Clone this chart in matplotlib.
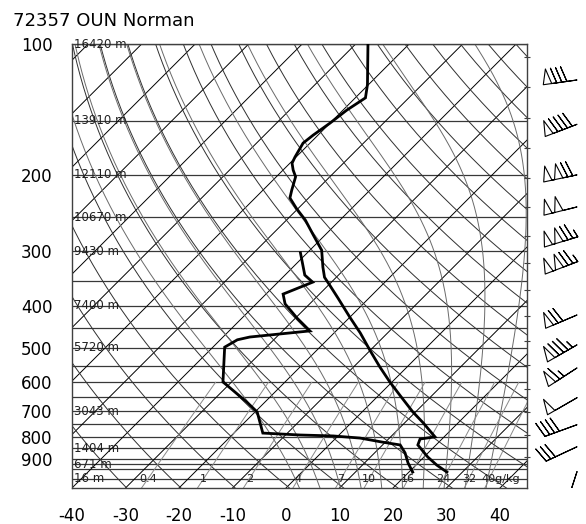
import numpy as np
import matplotlib.pyplot as plt

plt.rcParams['font.family'] = 'DejaVu Sans'
plt.rcParams['axes.unicode_minus'] = False

station = "72357 OUN Norman"

# sounding (hPa, degC)
temp_p = [100, 124, 133, 142, 152, 162, 169, 182, 188, 195, 202, 217, 226, 239,
          254, 275, 298, 326, 344, 359, 384, 425, 462, 506, 553, 599, 642, 702,
          744, 801, 810, 836, 891, 930, 965]
temp_c = [-67.7, -60.2, -58.1, -59.3, -60.0, -60.9, -61.3, -60.2, -59.6, -58.1,
          -56.4, -54.6, -53.5, -50.3, -46.5, -42.2, -37.8, -34.4, -32.2, -29.7,
          -25.8, -20.0, -15.1, -10.1, -5.1, -0.4, 3.9, 9.5, 13.5, 18.3, 15.9,
          16.6, 20.7, 23.9, 27.1]
dewp_p = [302, 340, 353, 376, 396, 427, 457, 472, 479, 498, 599, 609, 666, 702,
          785, 793, 797, 806, 823, 836, 872, 919, 965]
dewp_c = [-41.3, -36.3, -33.5, -36.8, -34.6, -29.7, -24.9, -35.0, -36.8, -37.8,
          -31.6, -30.3, -23.4, -19.6, -14.6, -7.3, -0.9, 4.5, 9.3, 13.3, 15.7,
          18.1, 20.7]

# geopotential heights written on the isobars
hgt_p = [100, 150, 200, 250, 300, 400, 500, 700, 850, 925, 1000]
hgt_m = [16420, 13910, 12110, 10670, 9430, 7400, 5720, 3043, 1404, 671, 16]

# winds (hPa, deg, knots)
wind_p = [121, 153, 200, 237, 278, 317, 420, 492, 556, 651, 751, 844, 963]
wind_dir = [262, 249, 258, 256, 253, 249, 247, 240, 237, 240, 250, 245, 198]
wind_kt = [80, 90, 120, 100, 125, 125, 70, 85, 65, 50, 40, 30, 10]

p_ticks = [100, 200, 300, 400, 500, 600, 700, 800, 900]
t_ticks = [-40, -30, -20, -10, 0, 10, 20, 30, 40]
isobars = list(range(100, 1001, 50)) + [925]
mix_gkg = [0.4, 1, 2, 4, 7, 10, 16, 24, 32, 40]
mix_lbl = ['0.4', '1', '2', '4', '7', '10', '16', '24', '32', '40g/kg']

P_BOT, P_TOP = 1050.0, 100.0
SKEW = 81.3
X0, X1 = -40.0, 45.05


def skx(t, p):
    return np.asarray(t, float) + SKEW * np.log10(P_BOT / np.asarray(p, float))


def es(tc):
    return 6.112 * np.exp(17.67 * tc / (tc + 243.5))


def moist(t0, p):
    # integrate the saturated lapse rate from 1000 hPa both ways
    Rd, cp, L, eps = 287.04, 1005.7, 2.501e6, 0.622

    def dtdp(tk, pp):
        e = es(tk - 273.15)
        rs = eps * e / (pp - e)
        return (Rd * tk + L * rs) / (pp * (cp + L * L * rs * eps / (Rd * tk * tk)))

    out = np.empty_like(p)
    tk = t0 + 273.15
    prev = 1000.0
    i0 = np.searchsorted(-p, -1000.0)
    for i in range(i0, len(p)):
        dp = p[i] - prev
        k1 = dtdp(tk, prev)
        k2 = dtdp(tk + 0.5 * dp * k1, prev + 0.5 * dp)
        tk = tk + dp * k2
        prev = p[i]
        out[i] = tk
    tk = t0 + 273.15
    prev = 1000.0
    for i in range(i0 - 1, -1, -1):
        dp = p[i] - prev
        tk = tk + dp * dtdp(tk, prev)
        prev = p[i]
        out[i] = tk
    return out - 273.15


fig = plt.figure(figsize=(5.86, 5.24), dpi=100)
ax = fig.add_axes([72 / 586, 1 - 488 / 524, 455 / 586, 444 / 524])
ax.set_yscale('log')
ax.set_ylim(P_BOT, P_TOP)
ax.set_xlim(X0, X1)

pp = np.logspace(np.log10(P_BOT), np.log10(P_TOP), 200)

# isobars
for p in isobars:
    ax.axhline(p, color='#383838', lw=0.9, zorder=1)

# isotherms
for t in range(-130, 50, 10):
    ax.plot(skx(t, pp), pp, color='black', lw=0.7, zorder=1)

# dry adiabats
for th in range(230, 500, 10):
    tk = th * (pp / 1000.0) ** 0.2857
    ax.plot(skx(tk - 273.15, pp), pp, color='#303030', lw=0.7, zorder=1)

# moist adiabats
for t0 in range(0, 40, 4):
    ax.plot(skx(moist(float(t0), pp), pp), pp, color='#6a6a6a', lw=0.7, zorder=1)

# mixing ratio lines
pm = np.logspace(np.log10(P_BOT), np.log10(600), 50)
for w, lab in zip(mix_gkg, mix_lbl):
    e = w * pm / (622.0 + w)
    ln = np.log(e / 6.112)
    td = 243.5 * ln / (17.67 - ln)
    ax.plot(skx(td, pm), pm, color='#8a8a8a', lw=0.7, zorder=1)
    e1 = w * 1000.0 / (622.0 + w)
    l1 = np.log(e1 / 6.112)
    x1 = skx(243.5 * l1 / (17.67 - l1), 1000.0)
    if lab.endswith('kg'):
        ax.text(x1 - 1.4, 1000, lab, fontsize=8, ha='left', va='center',
                color='#202020', zorder=3)
    else:
        ax.text(x1, 1000, lab, fontsize=8, ha='center', va='center',
                color='#202020', zorder=3)

# height labels
for p, z in zip(hgt_p, hgt_m):
    ax.text(X0 + 0.4, p, f"{z} m", fontsize=8.5, ha='left', va='center',
            color='#202020', zorder=3)

# sounding
ax.plot(skx(temp_c, temp_p), temp_p, color='black', lw=2.0, zorder=4,
        solid_joinstyle='miter')
ax.plot(skx(dewp_c, dewp_p), dewp_p, color='black', lw=2.0, zorder=4,
        solid_joinstyle='miter')

ax.set_yticks(p_ticks)
ax.set_yticklabels([str(p) for p in p_ticks])
ax.yaxis.set_minor_locator(plt.NullLocator())
ax.set_xticks(t_ticks)
ax.set_xticklabels([str(t) for t in t_ticks])
ax.tick_params(length=0, labelsize=12, pad=14)
for s in ax.spines.values():
    s.set_color('#404040')
    s.set_linewidth(1.0)

# km marks on the right edge
zk = np.arange(1000, 17000, 1000)
pk = 10 ** np.interp(zk, hgt_m[::-1], np.log10(hgt_p[::-1]))
axr = ax.twinx()
axr.set_yscale('log')
axr.set_ylim(P_BOT, P_TOP)
axr.set_yticks(pk)
axr.set_yticklabels([])
axr.yaxis.set_minor_locator(plt.NullLocator())
axr.tick_params(direction='inout', length=4, width=0.8, color='#404040')
for s in axr.spines.values():
    s.set_visible(False)

# wind barbs column
axw = fig.add_axes([530 / 586, 1 - 488 / 524, 56 / 586, 444 / 524])
axw.set_yscale('log')
axw.set_ylim(P_BOT, P_TOP)
axw.set_xlim(0, 56)
axw.axis('off')
wd = np.radians(wind_dir)
u = -np.array(wind_kt) * np.sin(wd)
v = -np.array(wind_kt) * np.cos(wd)
axw.barbs(np.full(len(wind_p), 47.0), wind_p, u, v, length=7, lw=0.8,
          barbcolor='black', flagcolor='none',
          sizes=dict(spacing=0.15, height=0.45, width=0.25))

fig.text(13 / 586, 1 - 26 / 524, station, fontsize=13, ha='left', va='baseline')

fig.savefig('out.png', dpi=100)
